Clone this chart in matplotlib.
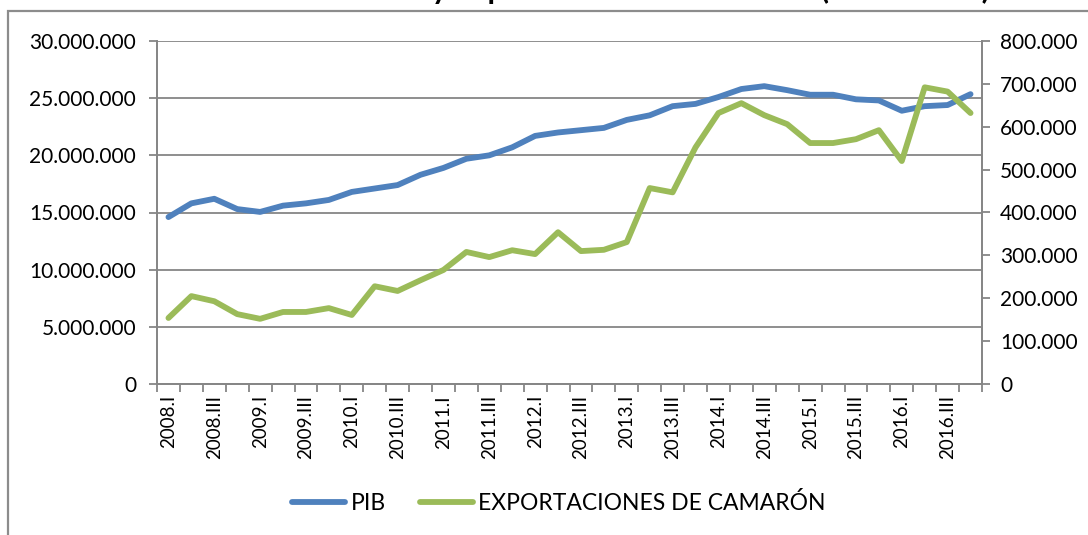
import matplotlib
matplotlib.use('Agg')
import matplotlib.pyplot as plt
from matplotlib.patches import Rectangle
from matplotlib.ticker import FuncFormatter

# trimestres 2008.I - 2016.IV
romanos = ['I', 'II', 'III', 'IV']
trimestres = [f'{a}.{r}' for a in range(2008, 2017) for r in romanos]

# PIB (eje izquierdo)
pib = [14600000, 15800000, 16200000, 15300000, 15050000, 15600000, 15800000, 16100000,
       16800000, 17100000, 17400000, 18300000, 18900000, 19700000, 20000000, 20700000,
       21700000, 22000000, 22200000, 22400000, 23100000, 23500000, 24300000, 24500000,
       25100000, 25800000, 26050000, 25700000, 25300000, 25300000, 24900000, 24800000,
       23900000, 24300000, 24400000, 25350000]

# exportaciones de camarón (eje derecho)
camaron = [154000, 205000, 193000, 163000, 152000, 168000, 168000, 177000,
           161000, 228000, 217000, 242000, 266000, 308000, 296000, 312000,
           303000, 354000, 310000, 313000, 331000, 457000, 447000, 552000,
           632000, 655000, 627000, 606000, 562000, 562000, 571000, 592000,
           520000, 692000, 682000, 632000]

titulo = 'Evolución del PIB y exportaciones de camarón (2008-2016)'

plt.rcParams['font.family'] = ['Lato', 'DejaVu Sans']

W, H = 1088, 535
fig = plt.figure(figsize=(W / 100, H / 100), dpi=100)
fig.patch.set_facecolor('white')

# marco del gráfico (se sale por la derecha y por abajo)
fig.patches.append(Rectangle((8 / W, -0.1), 1.2, 1 - 11 / H + 0.1, transform=fig.transFigure,
                             fill=False, edgecolor='#8c8c8c', linewidth=1.6, zorder=0))

# título cortado arriba, como en el original
fig.text(990 / W, 1.0 + 1 / H, titulo, ha='right', va='baseline', fontsize=22,
         fontweight='bold', color='black')

ax = fig.add_axes([157 / W, 1 - 384 / H, (982 - 157) / W, (384 - 41) / H])
ax2 = ax.twinx()

x = list(range(len(trimestres)))
gris = '#868686'

ax.plot(x, pib, color='#4F81BD', linewidth=4.2, solid_capstyle='round', solid_joinstyle='round',
        label='PIB', zorder=3)
ax2.plot(x, camaron, color='#9BBB59', linewidth=4.2, solid_capstyle='round', solid_joinstyle='round',
         label='EXPORTACIONES DE CAMARÓN', zorder=3)

ax.set_xlim(-0.5, len(trimestres) - 0.5)
ax.set_ylim(0, 30000000)
ax2.set_ylim(0, 800000)
ax.set_yticks(range(0, 30000001, 5000000))
ax2.set_yticks(range(0, 800001, 100000))

fmt = FuncFormatter(lambda v, p: f'{int(v):,}'.replace(',', '.'))
ax.yaxis.set_major_formatter(fmt)
ax2.yaxis.set_major_formatter(fmt)

ax.grid(axis='y', color=gris, linewidth=1.3)
ax.set_axisbelow(True)

# marcas entre categorías, etiquetas cada dos trimestres
ax.set_xticks([i - 0.5 for i in range(len(trimestres) + 1)])
ax.set_xticklabels([])
ax.set_xticks(x[::2], minor=True)
ax.set_xticklabels(trimestres[::2], minor=True, rotation=90, fontsize=13.5)
ax.tick_params(axis='x', which='major', length=6, width=1.3, color=gris, direction='out')
ax.tick_params(axis='x', which='minor', length=0, pad=8)

ax.tick_params(axis='y', length=6, width=1.3, color=gris, labelsize=15, pad=9)
ax2.tick_params(axis='y', length=6, width=1.3, color=gris, labelsize=15, pad=7)

for a in (ax, ax2):
    a.spines['top'].set_visible(False)
    for s in ('left', 'right', 'bottom'):
        a.spines[s].set_color(gris)
        a.spines[s].set_linewidth(1.3)
    a.set_facecolor('none')

h1, l1 = ax.get_legend_handles_labels()
h2, l2 = ax2.get_legend_handles_labels()
fig.legend(h1 + h2, l1 + l2, loc='center', bbox_to_anchor=(559 / W, 1 - 503 / H), ncol=2,
           frameon=False, fontsize=16.5, handlelength=2.3, handletextpad=0.25, columnspacing=1.5)

fig.savefig('out.png', dpi=100, facecolor='white')
